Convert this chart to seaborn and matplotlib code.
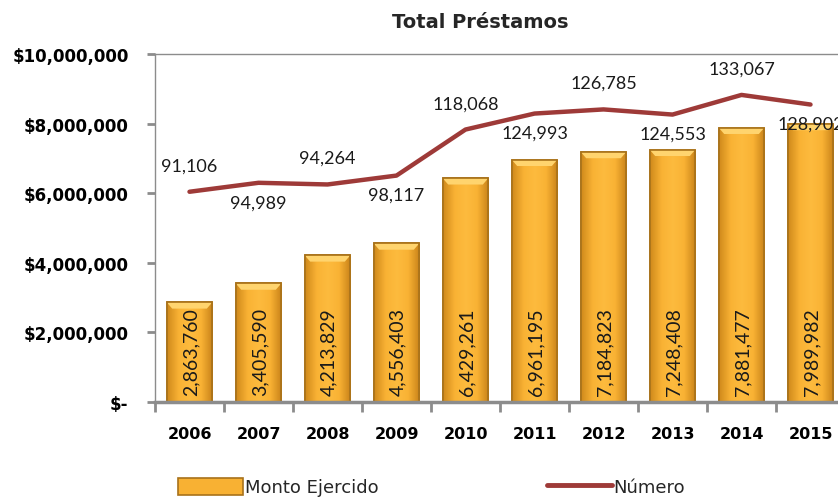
import numpy as np
import pandas as pd
import matplotlib.pyplot as plt
import seaborn as sns
from matplotlib.patches import Patch
from matplotlib.lines import Line2D
from matplotlib.colors import LinearSegmentedColormap
from matplotlib.ticker import FuncFormatter, MultipleLocator

years = ['2006', '2007', '2008', '2009', '2010', '2011', '2012', '2013', '2014', '2015']
monto = [2863760, 3405590, 4213829, 4556403, 6429261, 6961195, 7184823, 7248408, 7881477, 7989982]
numero = [91106, 94989, 94264, 98117, 118068, 124993, 126785, 124553, 133067, 128902]
# label above (1) or below (-1) the line
label_side = [1, -1, 1, -1, 1, -1, 1, -1, 1, -1]

df = pd.DataFrame({'year': years, 'monto': monto, 'numero': numero})

sns.set_style('white')
plt.rcParams['font.family'] = ['DejaVu Sans']

gold = '#F8B133'
red = '#9E3A38'

fig = plt.figure(figsize=(8.38, 5.02), dpi=100)
ax = fig.add_axes([155 / 838, 1 - 403 / 502, 690 / 838, 348 / 502])

sns.barplot(data=df, x='year', y='monto', color=gold, width=0.66,
            edgecolor='#A8721A', linewidth=1.2, saturation=1, ax=ax)
ax.set_ylim(0, 10000000)
ax.set_xlim(-0.5, len(years) - 0.5)

# soft gold shading across each bar, plus a light bevel on top
cmap = LinearSegmentedColormap.from_list('goldbar', ['#D08A1C', '#F9B234', '#FDBB3E', '#F9B234', '#C98319'])
grad = np.linspace(0, 1, 64).reshape(1, -1)
for bar in ax.patches:
    x0, y0 = bar.get_x(), bar.get_y()
    w, h = bar.get_width(), bar.get_height()
    im = ax.imshow(grad, cmap=cmap, aspect='auto', extent=(x0, x0 + w, y0, y0 + h),
                   zorder=bar.get_zorder() + 0.1)
    im.set_clip_path(bar)
    ax.fill([x0, x0 + w, x0 + w * 0.88, x0 + w * 0.12],
            [y0 + h, y0 + h, y0 + h - 180000, y0 + h - 180000],
            color='#FFD46E', zorder=bar.get_zorder() + 0.2, lw=0)
    ax.add_patch(plt.Rectangle((x0, y0), w, h, fill=False, edgecolor='#A8721A',
                               lw=1.2, zorder=bar.get_zorder() + 0.3))
ax.set_xlim(-0.5, len(years) - 0.5)
ax.set_ylim(0, 10000000)

ax.yaxis.set_major_locator(MultipleLocator(2000000))
ax.yaxis.set_major_formatter(FuncFormatter(lambda v, p: '$-' if v == 0 else '${:,.0f}'.format(v)))
ax.set_xlabel('')
ax.set_ylabel('')

# bar value labels, rotated, sitting near the base of each bar
for i, v in enumerate(monto):
    ax.text(i + 0.02, 200000, '{:,}'.format(v), rotation=90, ha='center', va='bottom',
            fontsize=14, color='#1a1a1a', family='Lato', zorder=10)

for s in ['top', 'left']:
    ax.spines[s].set_color('#8c8c8c')
    ax.spines[s].set_linewidth(1)
ax.spines['bottom'].set_color('#8c8c8c')
ax.spines['bottom'].set_linewidth(2.5)
ax.spines['right'].set_visible(False)

ax.tick_params(axis='y', which='major', left=True, length=6, width=2, color='#8c8c8c',
               labelsize=12, labelcolor='black', pad=13)
ax.set_xticks(np.arange(-0.5, len(years), 1), minor=True)
ax.tick_params(axis='x', which='major', bottom=False, labelsize=11.5, labelcolor='black', pad=14)
ax.tick_params(axis='x', which='minor', bottom=True, length=7, width=2, color='#8c8c8c')
for t in ax.get_yticklabels() + ax.get_xticklabels():
    t.set_fontweight('heavy')

ax2 = ax.twinx()
sns.lineplot(x=np.arange(len(years)), y=numero, color=red, linewidth=3.2, ax=ax2)
ax2.set_ylim(0, 150800)
ax2.set_yticks([])
for s in ax2.spines.values():
    s.set_visible(False)

for i, v in enumerate(numero):
    off = 19 if label_side[i] > 0 else -14
    ax2.annotate('{:,}'.format(v), (i, v), xytext=(0, off), textcoords='offset points',
                 ha='center', va='center', fontsize=13, color='#1a1a1a', family='Lato')

fig.text(0.573, 0.955, 'Total Préstamos', ha='center', va='center',
         fontsize=14, fontweight='heavy')

handles = [Patch(facecolor=gold, edgecolor='#A8721A', linewidth=1.2),
           Line2D([0], [0], color=red, linewidth=3.5)]
fig.legend(handles, ['Monto Ejercido', 'Número'], loc='center', ncol=2,
           bbox_to_anchor=(0.515, 0.028), frameon=False, fontsize=13,
           handlelength=3.6, handleheight=1.1, handletextpad=0.1, columnspacing=9.3)

plt.savefig('out.png', dpi=100)
